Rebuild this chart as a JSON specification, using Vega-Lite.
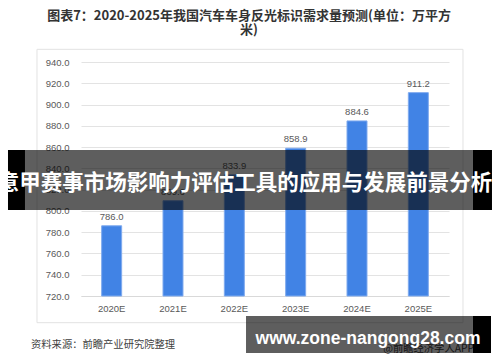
{
  "$schema": "https://vega.github.io/schema/vega-lite/v6.json",
  "autosize": {"type": "none"},
  "padding": {"left": 81, "top": 62, "right": 51, "bottom": 66},
  "width": 368,
  "height": 234,
  "background": "white",
  "config": {"view": {"stroke": null}, "font": "Noto Sans CJK SC"},
  "title": {
    "text": ["图表7：2020-2025年我国汽车车身反光标识需求量预测(单位：万平方", "米)"],
    "font": "Noto Sans CJK SC",
    "fontSize": 13,
    "fontWeight": "bold",
    "color": "#333333",
    "lineHeight": 14,
    "anchor": "middle",
    "frame": "bounds",
    "offset": 12,
    "dx": 4
  },
  "layer": [
    {
      "data": {"values": [
        {"year": "2020E", "value": 786.0},
        {"year": "2021E", "value": 809.6},
        {"year": "2022E", "value": 833.9},
        {"year": "2023E", "value": 858.9},
        {"year": "2024E", "value": 884.6},
        {"year": "2025E", "value": 911.2}
      ]},
      "encoding": {
        "x": {
          "field": "year", "type": "nominal", "sort": null,
          "scale": {"paddingInner": 0.674, "paddingOuter": 0.337},
          "axis": {"title": null, "labelAngle": 0, "ticks": false, "domainColor": "#d9d9d9", "labelPadding": 7,
                   "labelFont": "Liberation Sans", "labelFontSize": 9.5, "labelColor": "#595959", "grid": false}
        },
        "y": {
          "field": "value", "type": "quantitative",
          "scale": {"domain": [720, 940], "nice": false, "zero": false, "clamp": true},
          "axis": {"title": null, "values": [720, 740, 760, 780, 800, 820, 840, 860, 880, 900, 920, 940],
                   "format": ".1f", "domain": false, "ticks": false, "labelPadding": 12,
                   "labelFont": "Liberation Sans", "labelFontSize": 9.5, "labelColor": "#595959",
                   "gridColor": "#e3e3e3"}
        }
      },
      "layer": [
        {"mark": {"type": "bar", "color": "#4183E5", "stroke": "#7FAAEE", "strokeWidth": 1},
         "encoding": {"y2": {"datum": 720}}},
        {"mark": {"type": "text", "baseline": "bottom", "dy": -4, "font": "Liberation Sans", "fontSize": 9.5, "color": "#595959"},
         "encoding": {"text": {"field": "value", "type": "quantitative", "format": ".1f"}}}
      ]
    },
    {
      "layer": [
        {
          "data": {"values": [{}]},
          "mark": {"type": "rect", "fill": null, "stroke": "#e2e2e2", "strokeWidth": 1},
          "encoding": {
            "x": {"datum": -0.1196, "type": "quantitative", "scale": {"domain": [0, 1], "nice": false, "zero": false}, "axis": null},
            "x2": {"datum": 1.038},
            "y": {"datum": 951.9, "type": "quantitative", "scale": {"domain": [720, 940], "nice": false, "zero": false}, "axis": null},
            "y2": {"datum": 694.9}
          }
        },
        {
          "data": {"values": [{"note": "资料来源：前瞻产业研究院整理"}]},
          "mark": {"type": "text", "align": "left", "baseline": "middle", "font": "Noto Sans CJK SC", "fontSize": 10.3, "color": "#404040"},
          "encoding": {
            "x": {"datum": -0.1359, "type": "quantitative"},
            "y": {"datum": 673.9, "type": "quantitative"},
            "text": {"field": "note"}
          }
        },
        {
          "data": {"values": [{"note": "@前瞻经济学人APP"}]},
          "mark": {"type": "text", "align": "right", "baseline": "middle", "font": "Noto Sans CJK SC", "fontSize": 10.3, "color": "#404040"},
          "encoding": {
            "x": {"datum": 1.068, "type": "quantitative"},
            "y": {"datum": 670.6, "type": "quantitative"},
            "text": {"field": "note"}
          }
        },
        {
          "data": {"values": [{}]},
          "mark": {"type": "rect", "color": "#000000", "opacity": 0.63},
          "encoding": {
            "x": {"datum": -0.1522, "type": "quantitative"},
            "x2": {"datum": 1.0652},
            "y": {"datum": 857.3, "type": "quantitative"},
            "y2": {"datum": 800.9}
          }
        },
        {
          "data": {"values": [{}]},
          "mark": {"type": "rect", "color": "#000000", "opacity": 1},
          "encoding": {
            "x": {"datum": -0.1984, "type": "quantitative"},
            "x2": {"datum": -0.1522},
            "y": {"datum": 857.3, "type": "quantitative"},
            "y2": {"datum": 800.9}
          }
        },
        {
          "data": {"values": [{}]},
          "mark": {"type": "rect", "color": "#000000", "opacity": 1},
          "encoding": {
            "x": {"datum": 1.0652, "type": "quantitative"},
            "x2": {"datum": 1.1168},
            "y": {"datum": 857.3, "type": "quantitative"},
            "y2": {"datum": 800.9}
          }
        },
        {
          "data": {"values": [{"note": "意甲赛事市场影响力评估工具的应用与发展前景分析"}]},
          "mark": {"type": "text", "align": "center", "baseline": "middle", "font": "Noto Sans CJK SC", "fontWeight": "bold", "fontSize": 21.5, "color": "#ffffff"},
          "encoding": {
            "x": {"datum": 0.4457, "type": "quantitative"},
            "y": {"datum": 825.3, "type": "quantitative"},
            "text": {"field": "note"}
          }
        },
        {
          "data": {"values": [{}]},
          "mark": {"type": "rect", "color": "#000000", "opacity": 0.63},
          "encoding": {
            "x": {"datum": 0.4484, "type": "quantitative"},
            "x2": {"datum": 1.0652},
            "y": {"datum": 701.2, "type": "quantitative"},
            "y2": {"datum": 666.4}
          }
        },
        {
          "data": {"values": [{}]},
          "mark": {"type": "rect", "color": "#000000", "opacity": 1},
          "encoding": {
            "x": {"datum": 1.0652, "type": "quantitative"},
            "x2": {"datum": 1.1141},
            "y": {"datum": 701.2, "type": "quantitative"},
            "y2": {"datum": 666.4}
          }
        },
        {
          "data": {"values": [{"note": "www.zone-nangong28.com"}]},
          "mark": {"type": "text", "align": "center", "baseline": "alphabetic", "font": "Liberation Sans", "fontWeight": "bold", "fontSize": 17.5, "color": "#ffffff"},
          "encoding": {
            "x": {"datum": 0.7799, "type": "quantitative"},
            "y": {"datum": 674.9, "type": "quantitative"},
            "text": {"field": "note"}
          }
        }
      ]
    }
  ],
  "resolve": {
    "scale": {"x": "independent", "y": "independent"},
    "axis": {"x": "independent", "y": "independent"}
  }
}
